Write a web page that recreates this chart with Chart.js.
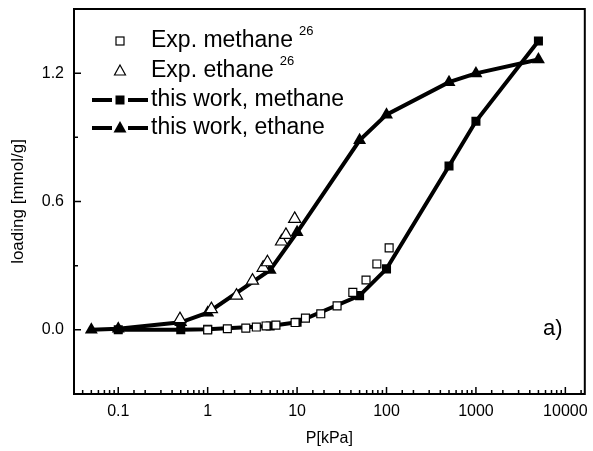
<!DOCTYPE html>
<html><head><meta charset="utf-8">
<script src="https://cdn.jsdelivr.net/npm/chart.js@4"></script>
<style>html,body{margin:0;padding:0;background:#fff}</style>
</head><body>
<canvas id="c" width="593" height="451" style="display:block;width:593px;height:451px"></canvas>
<script>
// ---- data ----
const expMethaneP = [1, 1.66, 2.67, 3.5, 4.5, 5.8, 9.5, 12.4, 18.4, 28, 42, 59, 78, 107];
const expMethaneQ = [0, 0.005, 0.008, 0.013, 0.018, 0.022, 0.034, 0.055, 0.075, 0.112, 0.175, 0.233, 0.308, 0.383];
const expEthaneP = [0.49, 1.1, 2.1, 3.17, 4.17, 4.66, 6.7, 7.5, 9.4];
const expEthaneQ = [0.05, 0.097, 0.16, 0.23, 0.29, 0.316, 0.413, 0.444, 0.519];
const simMethaneP = [0.1, 0.5, 1, 5, 10, 50, 100, 500, 1000, 5000];
const simMethaneQ = [0, 0, 0.003, 0.018, 0.035, 0.16, 0.285, 0.766, 0.975, 1.35];
const simEthaneP = [0.05, 0.1, 0.5, 1, 5, 10, 50, 100, 500, 1000, 5000];
const simEthaneQ = [0, 0.005, 0.035, 0.08, 0.28, 0.456, 0.886, 1.006, 1.158, 1.199, 1.264];
const xTickLabels = ['0.1', '1', '10', '100', '1000', '10000'];
const yTickLabels = ['0.0', '0.6', '1.2'];
const legendLabels = ['Exp. methane', 'Exp. ethane', 'this work, methane', 'this work, ethane'];
const legendSup = '26';
const panelLabel = 'a)';

const FONT = '"Liberation Sans", Arial, sans-serif';
const pts = (P, Q) => P.map((p, i) => ({x: p, y: Q[i]}));
const isPow10 = v => Math.abs(Math.log10(v) - Math.round(Math.log10(v))) < 1e-6;

const framePlugin = {
  id: 'frame',
  afterDraw(chart) {
    const {ctx, chartArea: a, scales: {x, y}} = chart;
    ctx.save();
    ctx.strokeStyle = '#000';
    ctx.lineWidth = 2;
    ctx.strokeRect(a.left, a.top, a.right - a.left, a.bottom - a.top);
    ctx.lineWidth = 1.5;
    ctx.beginPath();
    x.ticks.forEach(t => {
      const px = x.getPixelForValue(t.value);
      if (px < a.left + 2 || px > a.right - 2) return;
      const len = isPow10(t.value) ? 7 : 4;
      ctx.moveTo(px, a.bottom); ctx.lineTo(px, a.bottom - len);
    });
    y.ticks.forEach(t => {
      const py = y.getPixelForValue(t.value);
      if (py < a.top + 2 || py > a.bottom - 2) return;
      const major = Math.abs(t.value / 0.6 - Math.round(t.value / 0.6)) < 1e-6;
      const len = major ? 7 : 4;
      ctx.moveTo(a.left, py); ctx.lineTo(a.left + len, py);
    });
    ctx.stroke();

    // legend
    const rows = [41, 71, 100, 128];
    const mx = 120, tx = 151;
    ctx.textBaseline = 'middle';
    ctx.textAlign = 'left';
    ctx.lineWidth = 1.2;
    ctx.fillStyle = '#fff';
    ctx.fillRect(mx - 4, rows[0] - 4, 8, 8);
    ctx.strokeRect(mx - 4, rows[0] - 4, 8, 8);
    ctx.beginPath();
    ctx.moveTo(mx, rows[1] - 6); ctx.lineTo(mx + 5.5, rows[1] + 4); ctx.lineTo(mx - 5.5, rows[1] + 4); ctx.closePath();
    ctx.fill(); ctx.stroke();
    ctx.fillStyle = '#000';
    ctx.lineWidth = 4;
    [2, 3].forEach(r => {
      ctx.beginPath();
      ctx.moveTo(92, rows[r]); ctx.lineTo(112, rows[r]);
      ctx.moveTo(128, rows[r]); ctx.lineTo(148, rows[r]);
      ctx.stroke();
    });
    ctx.fillRect(mx - 4.5, rows[2] - 4.5, 9, 9);
    ctx.beginPath();
    ctx.moveTo(mx, rows[3] - 7); ctx.lineTo(mx + 6.5, rows[3] + 4.5); ctx.lineTo(mx - 6.5, rows[3] + 4.5); ctx.closePath();
    ctx.fill();
    legendLabels.forEach((l, i) => {
      ctx.font = '23px ' + FONT;
      ctx.fillText(l, tx, rows[i]);
      if (i < 2) {
        const w = ctx.measureText(l).width;
        ctx.font = '13px ' + FONT;
        ctx.fillText(legendSup, tx + w + 6, rows[i] - 10);
      }
    });
    ctx.font = '22px ' + FONT;
    ctx.fillText(panelLabel, 543, 329);
    ctx.restore();
  }
};

new Chart(document.getElementById('c'), {
  type: 'line',
  data: {
    datasets: [
      {label: legendLabels[0], data: pts(expMethaneP, expMethaneQ), showLine: false, order: 0,
       pointStyle: 'rect', pointRadius: 5.6, pointBackgroundColor: '#fff', pointBorderColor: '#000', pointBorderWidth: 1.2},
      {label: legendLabels[1], data: pts(expEthaneP, expEthaneQ), showLine: false, order: 0,
       pointStyle: 'triangle', pointRadius: 7, pointBackgroundColor: '#fff', pointBorderColor: '#000', pointBorderWidth: 1.2},
      {label: legendLabels[2], data: pts(simMethaneP, simMethaneQ), order: 1, borderColor: '#000', borderWidth: 4,
       pointStyle: 'rect', pointRadius: 6.4, pointBackgroundColor: '#000', pointBorderColor: '#000', pointBorderWidth: 0},
      {label: legendLabels[3], data: pts(simEthaneP, simEthaneQ), order: 1, borderColor: '#000', borderWidth: 4,
       pointStyle: 'triangle', pointRadius: 7.5, pointBackgroundColor: '#000', pointBorderColor: '#000', pointBorderWidth: 0}
    ]
  },
  options: {
    responsive: false,
    animation: false,
    layout: {padding: {top: 9, right: 3, left: 0, bottom: 0}},
    plugins: {legend: {display: false}, tooltip: {enabled: false}},
    scales: {
      x: {
        type: 'logarithmic', min: 0.032, max: 16500,
        afterFit: s => { s.height = 57; s.paddingLeft = 0; s.paddingRight = 0; },
        grid: {display: false, drawTicks: false},
        border: {display: false},
        ticks: {
          autoSkip: false, maxRotation: 0, padding: 8, color: '#000',
          font: {family: FONT, size: 16},
          callback: v => isPow10(v) ? xTickLabels[Math.round(Math.log10(v)) + 1] || '' : ''
        },
        title: {display: true, text: 'P[kPa]', color: '#000', font: {family: FONT, size: 16}, padding: {top: 0, bottom: 3}}
      },
      y: {
        type: 'linear', min: -0.3, max: 1.5,
        afterFit: s => { s.width = 74; s.paddingTop = 0; s.paddingBottom = 0; },
        grid: {display: false, drawTicks: false},
        border: {display: false},
        ticks: {
          stepSize: 0.3, padding: 10, color: '#000',
          font: {family: FONT, size: 16},
          callback: v => {
            const k = v / 0.6;
            if (Math.abs(k - Math.round(k)) < 1e-6 && Math.round(k) >= 0) return yTickLabels[Math.round(k)] || '';
            return '';
          }
        },
        title: {display: true, text: 'loading [mmol/g]', color: '#000', font: {family: FONT, size: 17}, padding: {top: 8, bottom: 0}}
      }
    }
  },
  plugins: [framePlugin]
});
</script>
</body></html>
